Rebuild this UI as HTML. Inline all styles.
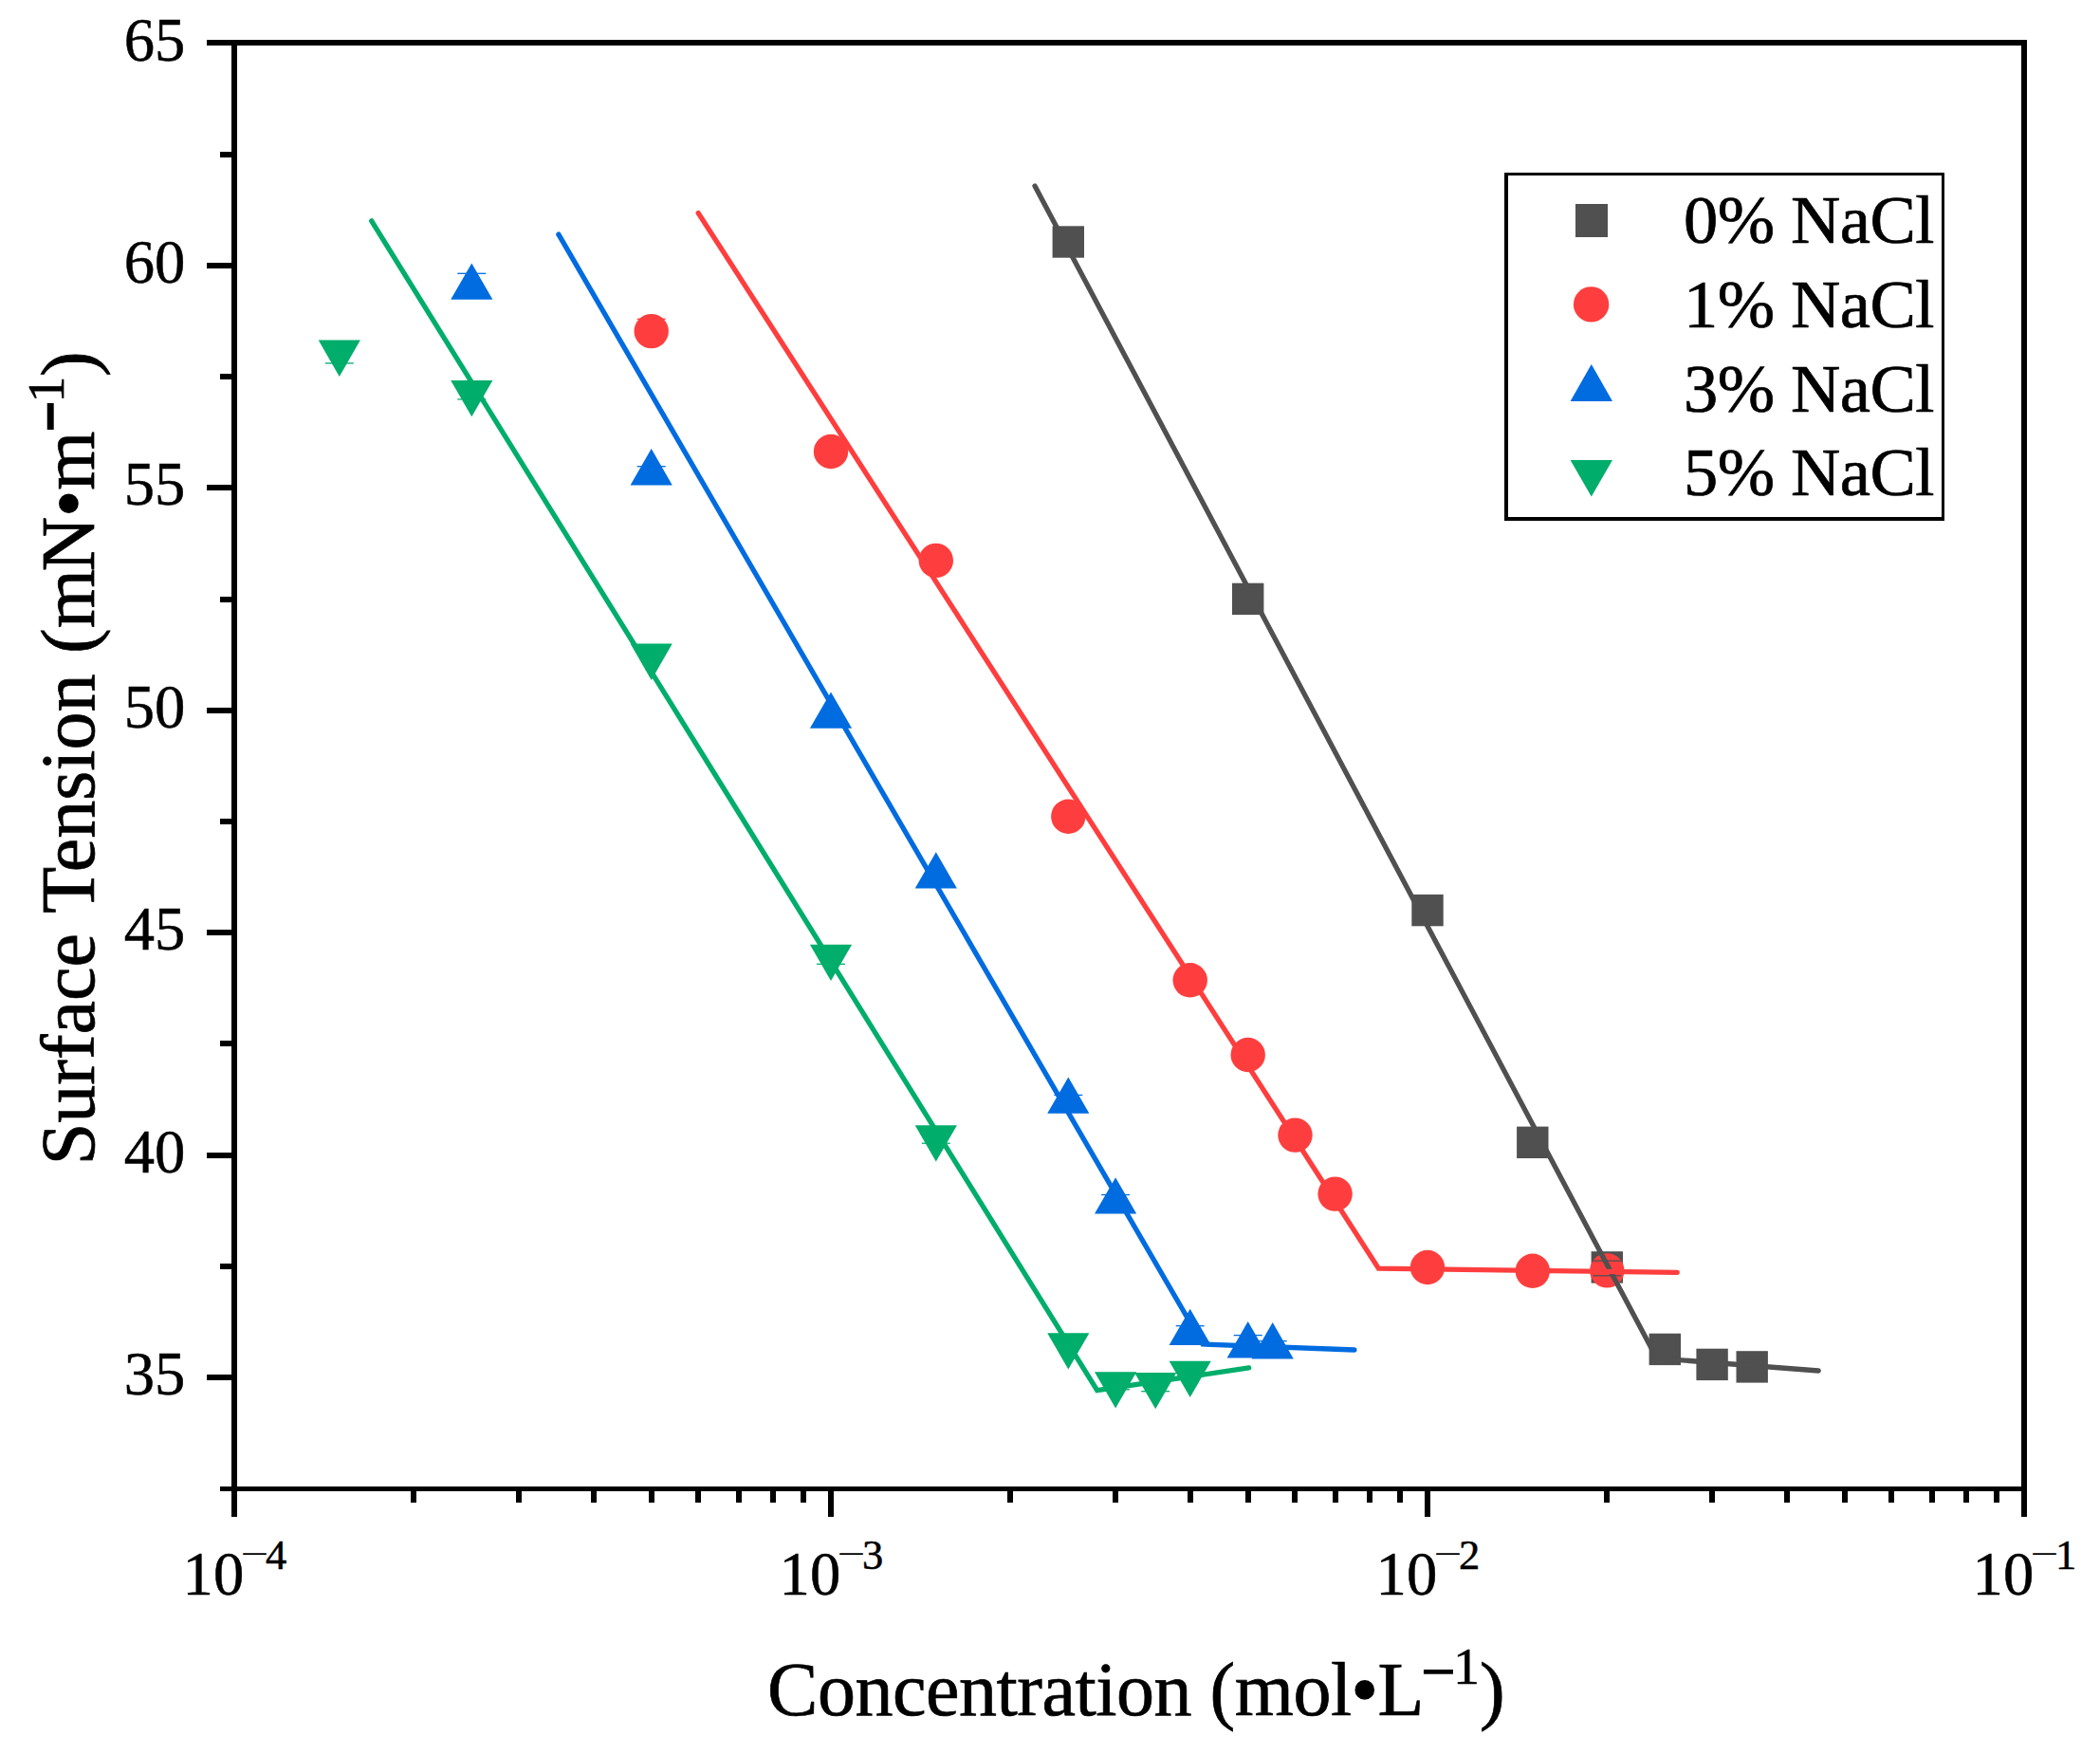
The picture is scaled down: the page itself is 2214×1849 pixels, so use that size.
<!DOCTYPE html>
<html lang="en"><head><meta charset="utf-8"><title>Surface Tension vs Concentration</title>
<style>html,body{margin:0;padding:0;background:#fff}svg{display:block}</style></head>
<body>
<svg width="2214" height="1849" viewBox="0 0 2214 1849">
<rect width="2214" height="1849" fill="#fff"/>
<g id="scatter">
<rect x="1109.6" y="238.3" width="33.4" height="33.4" fill="#505050"/>
<rect x="1299.0" y="614.7" width="33.4" height="33.4" fill="#505050"/>
<rect x="1488.3" y="942.9" width="33.4" height="33.4" fill="#505050"/>
<rect x="1599.1" y="1187.6" width="33.4" height="33.4" fill="#505050"/>
<rect x="1677.6" y="1319.2" width="33.4" height="33.4" fill="#505050"/>
<rect x="1738.6" y="1405.7" width="33.4" height="33.4" fill="#505050"/>
<rect x="1788.4" y="1421.7" width="33.4" height="33.4" fill="#505050"/>
<rect x="1830.5" y="1424.2" width="33.4" height="33.4" fill="#505050"/>
<circle cx="686.7" cy="349.1" r="18.2" fill="#FE3E3E"/>
<circle cx="876.0" cy="476.0" r="18.2" fill="#FE3E3E"/>
<circle cx="986.8" cy="590.9" r="18.2" fill="#FE3E3E"/>
<circle cx="1126.3" cy="860.7" r="18.2" fill="#FE3E3E"/>
<circle cx="1254.7" cy="1033.3" r="18.2" fill="#FE3E3E"/>
<circle cx="1315.7" cy="1112.0" r="18.2" fill="#FE3E3E"/>
<circle cx="1365.5" cy="1196.6" r="18.2" fill="#FE3E3E"/>
<circle cx="1407.6" cy="1258.6" r="18.2" fill="#FE3E3E"/>
<circle cx="1505.0" cy="1336.0" r="18.2" fill="#FE3E3E"/>
<circle cx="1615.8" cy="1339.8" r="18.2" fill="#FE3E3E"/>
<circle cx="1694.3" cy="1339.4" r="18.2" fill="#FE3E3E"/>
<polygon points="475.2,315.7 519.4,315.7 497.3,277.4" fill="#006CE0"/>
<polygon points="664.6,511.4 708.8,511.4 686.7,473.1" fill="#006CE0"/>
<polygon points="853.9,767.7 898.1,767.7 876.0,729.4" fill="#006CE0"/>
<polygon points="964.7,936.6 1008.9,936.6 986.8,898.3" fill="#006CE0"/>
<polygon points="1104.2,1173.8 1148.4,1173.8 1126.3,1135.5" fill="#006CE0"/>
<polygon points="1154.0,1279.5 1198.2,1279.5 1176.1,1241.2" fill="#006CE0"/>
<polygon points="1232.6,1418.1 1276.8,1418.1 1254.7,1379.8" fill="#006CE0"/>
<polygon points="1293.6,1431.4 1337.8,1431.4 1315.7,1393.1" fill="#006CE0"/>
<polygon points="1319.6,1432.4 1363.8,1432.4 1341.7,1394.1" fill="#006CE0"/>
<polygon points="335.7,358.6 379.9,358.6 357.8,396.9" fill="#00AD6B"/>
<polygon points="475.2,400.9 519.4,400.9 497.3,439.2" fill="#00AD6B"/>
<polygon points="664.6,678.6 708.8,678.6 686.7,716.9" fill="#00AD6B"/>
<polygon points="853.9,995.7 898.1,995.7 876.0,1034.0" fill="#00AD6B"/>
<polygon points="964.7,1186.2 1008.9,1186.2 986.8,1224.5" fill="#00AD6B"/>
<polygon points="1104.2,1405.3 1148.4,1405.3 1126.3,1443.6" fill="#00AD6B"/>
<polygon points="1154.0,1446.3 1198.2,1446.3 1176.1,1484.6" fill="#00AD6B"/>
<polygon points="1196.1,1447.0 1240.3,1447.0 1218.2,1485.3" fill="#00AD6B"/>
<polygon points="1232.6,1434.7 1276.8,1434.7 1254.7,1473.0" fill="#00AD6B"/>
</g>
<g id="errcaps" stroke-width="1.3">
<line x1="342.8" y1="382.9" x2="372.8" y2="382.9" stroke="#00AD6B"/>
<line x1="482.3" y1="288.3" x2="512.3" y2="288.3" stroke="#006CE0"/>
<line x1="482.3" y1="420.9" x2="512.3" y2="420.9" stroke="#00AD6B"/>
<line x1="671.7" y1="491.7" x2="701.7" y2="491.7" stroke="#006CE0"/>
<line x1="861.0" y1="1016.3" x2="891.0" y2="1016.3" stroke="#00AD6B"/>
<line x1="971.8" y1="1205.2" x2="1001.8" y2="1205.2" stroke="#00AD6B"/>
<line x1="1111.3" y1="1154.4" x2="1141.3" y2="1154.4" stroke="#006CE0"/>
<line x1="1161.1" y1="1259.5" x2="1191.1" y2="1259.5" stroke="#006CE0"/>
<line x1="1239.7" y1="1397.7" x2="1269.7" y2="1397.7" stroke="#006CE0"/>
<line x1="1300.7" y1="1407.6" x2="1330.7" y2="1407.6" stroke="#006CE0"/>
<line x1="1326.7" y1="1413.7" x2="1356.7" y2="1413.7" stroke="#006CE0"/>
<line x1="1161.1" y1="1464.8" x2="1191.1" y2="1464.8" stroke="#00AD6B"/>
<line x1="1203.2" y1="1466.7" x2="1233.2" y2="1466.7" stroke="#00AD6B"/>
<line x1="1679.3" y1="1329.1" x2="1709.3" y2="1329.1" stroke="#505050"/>
<line x1="1679.3" y1="1344.8" x2="1709.3" y2="1344.8" stroke="#505050"/>
<line x1="671.7" y1="336.3" x2="701.7" y2="336.3" stroke="#FE3E3E"/>
</g>
<g id="fits" fill="none" stroke-width="5.3" stroke-linecap="round" stroke-linejoin="miter">
<polyline points="1091.0,196.0 1746.6,1431.8 1917.2,1445.0" stroke="#505050"/>
<polyline points="736.2,224.6 1453.4,1337.1 1768.2,1341.3" stroke="#FE3E3E"/>
<polyline points="588.9,247.1 1268.0,1417.0 1428.0,1423.0" stroke="#006CE0"/>
<polyline points="391.7,232.9 1156.7,1465.7 1316.7,1441.9" stroke="#00AD6B"/>
</g>
<g id="axes" fill="#000" shape-rendering="crispEdges">
<rect x="218" y="42" width="1919" height="6"/>
<rect x="244" y="42" width="6" height="1557"/>
<rect x="2131" y="42" width="6" height="1557"/>
<rect x="232" y="1567" width="1905" height="5"/>
<rect x="218" y="277" width="27" height="6"/>
<rect x="218" y="511" width="27" height="6"/>
<rect x="218" y="746" width="27" height="6"/>
<rect x="218" y="980" width="27" height="6"/>
<rect x="218" y="1215" width="27" height="6"/>
<rect x="218" y="1449" width="27" height="6"/>
<rect x="232" y="160" width="13" height="6"/>
<rect x="232" y="394" width="13" height="6"/>
<rect x="232" y="629" width="13" height="6"/>
<rect x="232" y="863" width="13" height="6"/>
<rect x="232" y="1097" width="13" height="6"/>
<rect x="232" y="1332" width="13" height="6"/>
<rect x="873" y="1570" width="6" height="29"/>
<rect x="1502" y="1570" width="6" height="29"/>
<rect x="433" y="1570" width="6" height="14"/>
<rect x="544" y="1570" width="6" height="14"/>
<rect x="623" y="1570" width="6" height="14"/>
<rect x="684" y="1570" width="6" height="14"/>
<rect x="733" y="1570" width="6" height="14"/>
<rect x="776" y="1570" width="6" height="14"/>
<rect x="812" y="1570" width="6" height="14"/>
<rect x="844" y="1570" width="6" height="14"/>
<rect x="1062" y="1570" width="6" height="14"/>
<rect x="1173" y="1570" width="6" height="14"/>
<rect x="1252" y="1570" width="6" height="14"/>
<rect x="1313" y="1570" width="6" height="14"/>
<rect x="1362" y="1570" width="6" height="14"/>
<rect x="1405" y="1570" width="6" height="14"/>
<rect x="1441" y="1570" width="6" height="14"/>
<rect x="1473" y="1570" width="6" height="14"/>
<rect x="1691" y="1570" width="6" height="14"/>
<rect x="1802" y="1570" width="6" height="14"/>
<rect x="1881" y="1570" width="6" height="14"/>
<rect x="1942" y="1570" width="6" height="14"/>
<rect x="1991" y="1570" width="6" height="14"/>
<rect x="2034" y="1570" width="6" height="14"/>
<rect x="2070" y="1570" width="6" height="14"/>
<rect x="2102" y="1570" width="6" height="14"/>
</g>
<g id="ylabels" font-family="'Liberation Serif','Times New Roman',serif" font-size="64.6" text-anchor="end" fill="#000" stroke="#000" stroke-width="0.5">
<text x="195.3" y="63.6">65</text>
<text x="195.3" y="298.0">60</text>
<text x="195.3" y="532.4">55</text>
<text x="195.3" y="766.8">50</text>
<text x="195.3" y="1001.2">45</text>
<text x="195.3" y="1235.6">40</text>
<text x="195.3" y="1470.0">35</text>
</g>
<g id="xlabels" font-family="'Liberation Serif','Times New Roman',serif" fill="#000" stroke="#000" stroke-width="0.5">
<text x="192.6" y="1681.3" font-size="64.6">10</text>
<text transform="translate(253.6,1637.9) scale(1,0.62)" x="0" y="17.60" font-size="53" stroke="none">−</text>
<text x="280.0" y="1653.7" font-size="44.5">4</text>
<text x="821.6" y="1681.3" font-size="64.6">10</text>
<text transform="translate(882.6,1637.9) scale(1,0.62)" x="0" y="17.60" font-size="53" stroke="none">−</text>
<text x="909.0" y="1653.7" font-size="44.5">3</text>
<text x="1450.6" y="1681.3" font-size="64.6">10</text>
<text transform="translate(1511.6,1637.9) scale(1,0.62)" x="0" y="17.60" font-size="53" stroke="none">−</text>
<text x="1538.0" y="1653.7" font-size="44.5">2</text>
<text x="2079.6" y="1681.3" font-size="64.6">10</text>
<text transform="translate(2140.6,1637.9) scale(1,0.62)" x="0" y="17.60" font-size="53" stroke="none">−</text>
<text x="2167.0" y="1653.7" font-size="44.5">1</text>
</g>
<g id="xtitle" font-family="'Liberation Serif','Times New Roman',serif" fill="#000" stroke="#000" stroke-width="0.7">
<text x="809" y="1807.7" font-size="80" letter-spacing="-0.47">Concentration (mol<tspan stroke="#000" stroke-width="1.6">•</tspan>L</text>
<text x="1498.7" y="1783.3" font-size="62.9" stroke="#000" stroke-width="1.75" stroke-linejoin="miter">−</text>
<text x="1532.3" y="1775.1" font-size="55">1</text>
<text x="1560" y="1807.7" font-size="80">)</text>
</g>
<g id="ytitle" font-family="'Liberation Serif','Times New Roman',serif" fill="#000" stroke="#000" stroke-width="0.7" transform="translate(99,1228.2) rotate(-90)">
<text x="0" y="0" font-size="80">Surface <tspan dx="2.7">Tension </tspan><tspan dx="1.5">(m</tspan><tspan dx="-2.5">N</tspan><tspan stroke="#000" stroke-width="1.6">•</tspan>m</text>
</g>
<g id="ytitle2" font-family="'Liberation Serif','Times New Roman',serif" fill="#000" stroke="#000" stroke-width="0.7" transform="translate(99,1227.5) rotate(-90)">
<text x="774.2" y="-28.7" font-size="50.6" stroke="#000" stroke-width="4.47" stroke-linejoin="miter">−</text>
<text x="803.2" y="-32" font-size="55">1</text>
<text x="830.6" y="0" font-size="80">)</text>
</g>
<g id="legendbox" fill="#000" shape-rendering="crispEdges"><rect x="1586" y="182" width="464" height="367" fill="#fff"/><rect x="1586" y="182" width="464" height="3"/><rect x="1586" y="545" width="464" height="4"/><rect x="1586" y="182" width="4" height="367"/><rect x="2047" y="182" width="3" height="367"/></g>
<rect x="1661" y="215" width="34" height="35" fill="#505050"/>
<circle cx="1677.6" cy="320.9" r="18.7" fill="#FE3E3E"/>
<polygon points="1655.6,422.9 1700.0,422.9 1677.8,383.9" fill="#006CE0"/>
<polygon points="1655.6,485.1 1700.0,485.1 1677.8,523.4" fill="#00AD6B"/>
<g id="legtext" font-family="'Liberation Serif','Times New Roman',serif" font-size="72.5" letter-spacing="-0.6" fill="#000" stroke="#000" stroke-width="0.7">
<text x="1775.1" y="256.3">0% NaCl</text>
<text x="1775.1" y="345.1">1% NaCl</text>
<text x="1775.1" y="433.5">3% NaCl</text>
<text x="1775.1" y="522.3">5% NaCl</text>
</g>
</svg>
</body></html>
